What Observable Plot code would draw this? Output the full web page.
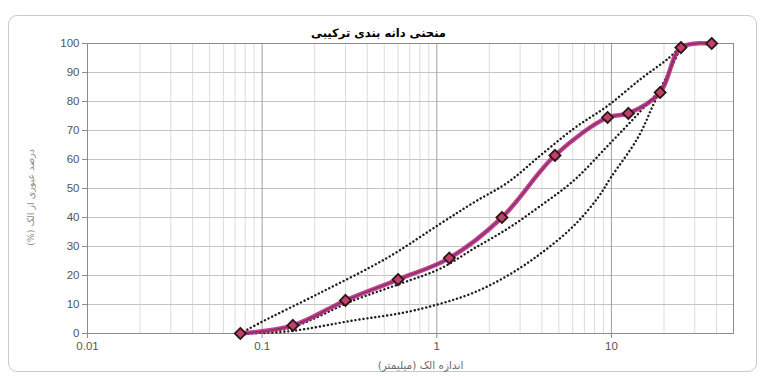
<!DOCTYPE html>
<html><head><meta charset="utf-8">
<script src="https://cdn.jsdelivr.net/npm/d3@7"></script>
<script src="https://cdn.jsdelivr.net/npm/@observablehq/plot@0.6"></script>
<style>
body{margin:0;background:#fff;}
#wrap{position:relative;width:763px;height:376px;overflow:hidden;background:#fff;}
#wrap svg{position:absolute;left:0;top:0;}
#border{position:absolute;left:8px;top:15px;width:749px;height:357px;border:1px solid #c9c9c9;border-radius:9px;box-sizing:border-box;pointer-events:none;}
</style></head><body><div id="wrap"><div id="border"></div></div>
<script>
// ---- data ----
const titleText = "منحنی دانه بندی ترکیبی";
const xLabel = "اندازه الک (میلیمتر)";
const yLabel = "درصد عبوری از الک (%)";

const sieveSizes = [0.075, 0.15, 0.3, 0.6, 1.18, 2.36, 4.75, 9.5, 12.5, 19, 25, 37.5];
const passing    = [0, 2.8, 11.4, 18.6, 26, 40, 61.4, 74.5, 75.9, 83.1, 98.6, 100];

const upperX = [0.075, 0.098, 0.216, 0.524, 1.05, 1.63, 2.55, 3.94, 6.1, 9.55, 14.8, 21.1, 25];
const upperY = [0, 3.8, 14.1, 26.2, 37.9, 45.2, 52.1, 61.5, 70.7, 78.6, 87.9, 94.8, 99];

const middleX = [0.075, 0.14, 0.334, 0.647, 1.05, 1.63, 2.55, 3.94, 6.1, 9.55, 14.8, 19.2, 25];
const middleY = [0, 1.7, 11.4, 17.6, 22.4, 29.3, 36.2, 44.1, 52.8, 64.8, 76.9, 84.8, 99];

const lowerX = [0.075, 0.14, 0.334, 0.647, 1.05, 1.63, 2.55, 3.94, 6.1, 8.38, 9.93, 14.2, 17.5, 21.1, 25];
const lowerY = [0, 0.7, 4.5, 7.2, 10.3, 14.1, 20, 27.6, 37.2, 46.9, 53.8, 67.6, 79.3, 89.7, 99];

const xTicks = [0.01, 0.1, 1, 10];
const yTicks = [0, 10, 20, 30, 40, 50, 60, 70, 80, 90, 100];

// ---- build tables ----
const zip = (xs, ys) => xs.map((x, i) => ({x, y: ys[i]}));
const gradation = zip(sieveSizes, passing);
const curves = [zip(upperX, upperY), zip(middleX, middleY), zip(lowerX, lowerY)];

// minor vertical gridlines (2..9 in each decade, within domain)
const minorGrid = [];
for (const d of xTicks) for (let k = 2; k <= 9; k++) { const v = d * k; if (v <= 50) minorGrid.push(v); }

const arFont = "'DejaVu Sans', sans-serif";
const rtl = s => "\u200F" + s + "\u200F";

const dotted = curves.map(c => Plot.line(c, {x: "x", y: "y", curve: "catmull-rom",
  stroke: "#1e1e1e", strokeWidth: 2.4, strokeDasharray: "0.1 3.9", strokeLinecap: "round"}));

const chart = Plot.plot({
  width: 763, height: 376,
  marginLeft: 87, marginRight: 30, marginTop: 43, marginBottom: 43,
  style: {fontFamily: "'Liberation Sans', Arial, sans-serif", fontSize: "11.5px", color: "#555", background: "transparent"},
  x: {type: "log", domain: [0.01, 50]},
  y: {domain: [0, 100]},
  marks: [
    Plot.ruleX(minorGrid, {stroke: "#dcdcdc", strokeWidth: 1}),
    Plot.ruleY(yTicks.filter(d => d > 0), {stroke: "#c4c4c4", strokeWidth: 1}),
    Plot.ruleX(xTicks.filter(d => d > 0.01), {stroke: "#a0a0a0", strokeWidth: 1}),
    Plot.frame({stroke: "#8c8c8c", strokeWidth: 1}),
    Plot.axisX({ticks: xTicks, tickFormat: d => String(d), label: null, tickSize: 5, tickPadding: 3, stroke: "#8c8c8c", fill: "#555"}),
    Plot.axisY({ticks: yTicks, tickFormat: d => String(d), label: null, tickSize: 5, tickPadding: 3, stroke: "#8c8c8c", fill: "#555"}),
    ...dotted,
    Plot.line(gradation, {x: "x", y: "y", curve: "catmull-rom", stroke: "#c2306a", strokeWidth: 4.5, strokeOpacity: 0.9}),
    Plot.line(gradation, {x: "x", y: "y", curve: "catmull-rom", stroke: "#7b2f95", strokeWidth: 1.4}),
    Plot.dot(gradation, {x: "x", y: "y", symbol: "diamond2", r: 5, fill: "#c4406c", stroke: "#2a1616", strokeWidth: 1.8}),
    Plot.text([rtl(titleText)], {text: d => d, frameAnchor: "top", dx: -32, dy: -10, lineAnchor: "middle", fontSize: 11.5, fontWeight: "bold", fill: "#000", fontFamily: arFont}),
    Plot.text([rtl(xLabel)], {text: d => d, frameAnchor: "bottom", dx: 10, dy: 32, lineAnchor: "middle", textAnchor: "middle", fontSize: 10.5, fill: "#6b6b6b", fontFamily: arFont}),
    Plot.text([rtl(yLabel)], {text: d => d, frameAnchor: "left", dx: -57, dy: 9, rotate: -90, textAnchor: "middle", lineAnchor: "middle", fontSize: 9.5, fill: "#8a8a8a", fontFamily: arFont})
  ]
});
document.getElementById("wrap").appendChild(chart);
</script>
</body></html>
